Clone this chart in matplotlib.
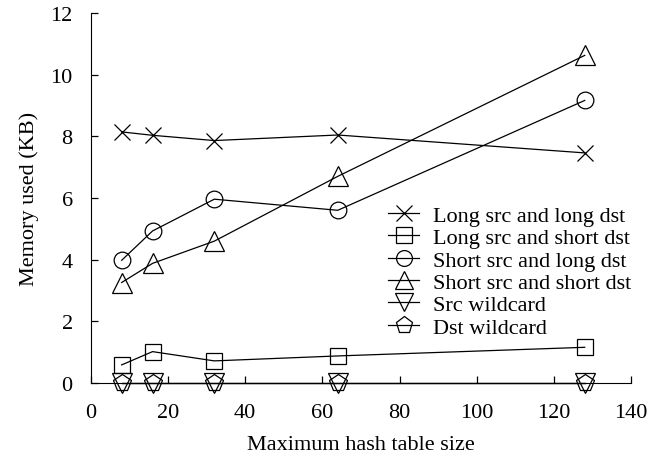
import numpy as np
import matplotlib
matplotlib.use("Agg")
from matplotlib import pyplot as plt

plt.rcParams['font.family'] = ['Liberation Serif', 'DejaVu Serif']
plt.rcParams['font.size'] = 16

sizes = [8, 16, 32, 64, 128]
long_long = [8.14, 8.03, 7.86, 8.04, 7.46]
long_short = [0.59, 1.02, 0.72, 0.88, 1.16]
short_long = [3.98, 4.93, 5.96, 5.60, 9.16]
short_short = [3.26, 3.88, 4.60, 6.70, 10.62]
src_wild = [0, 0, 0, 0, 0]
dst_wild = [0, 0, 0, 0, 0]

series = [
    ("Long src and long dst", long_long, "x", 12),
    ("Long src and short dst", long_short, "s", 12),
    ("Short src and long dst", short_long, "o", 12),
    ("Short src and short dst", short_short, "^", 14),
    ("Src wildcard", src_wild, "v", 14),
    ("Dst wildcard", dst_wild, "p", 13),
]

fig = plt.figure(figsize=(6.58, 4.6), dpi=100)
ax = fig.add_axes([0.138, 0.165, 0.821, 0.805])

for name, vals, mk, ms in series:
    ax.plot(sizes, vals, color="black", lw=0.9, marker=mk, markersize=ms,
            markerfacecolor="none", markeredgecolor="black", markeredgewidth=0.9,
            label=name, clip_on=False, zorder=3)

ax.set_xlim(0, 140)
ax.set_ylim(0, 12)
ax.set_xticks(np.arange(0, 141, 20))
ax.set_yticks(np.arange(0, 13, 2))
ax.tick_params(direction="in", length=5, width=0.9, labelsize=16)
ax.tick_params(axis="x", pad=14)
ax.tick_params(axis="y", pad=13)
ax.spines["top"].set_visible(False)
ax.spines["right"].set_visible(False)
ax.set_xlabel("Maximum hash table size", labelpad=10)
ax.set_ylabel("Memory used (KB)", labelpad=8)

leg = ax.legend(loc="upper left", bbox_to_anchor=(0.53, 0.51), frameon=False,
                handlelength=1.4, handletextpad=0.6, labelspacing=0.08,
                borderpad=0, fontsize=16, markerscale=0.95)

fig.savefig("out.png", dpi=100)
